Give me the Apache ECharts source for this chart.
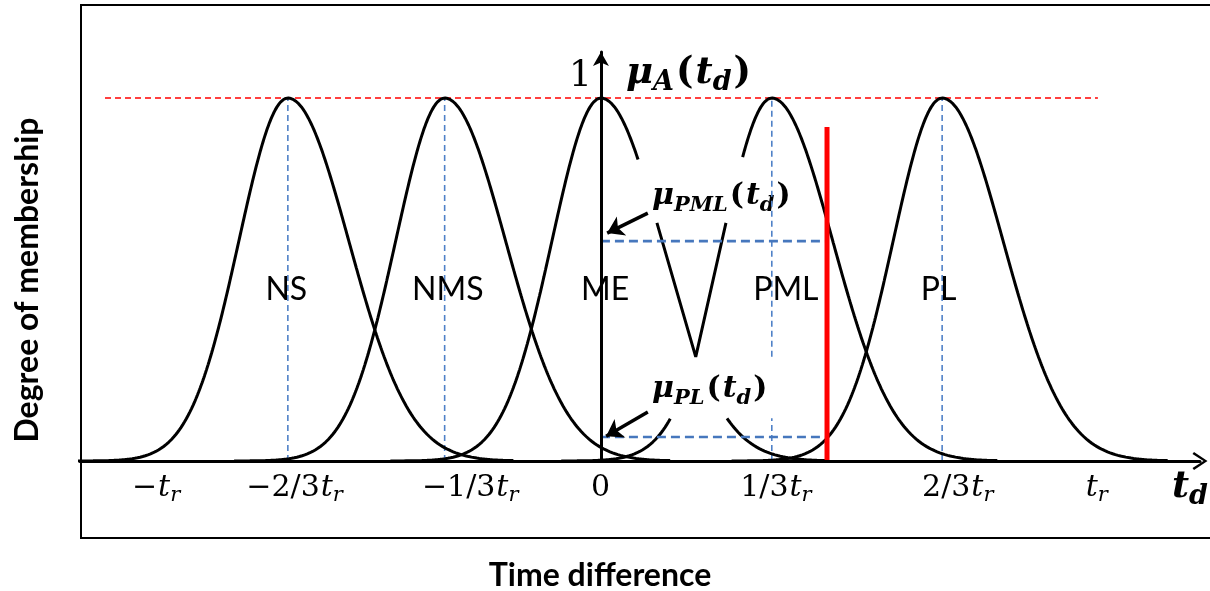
<!DOCTYPE html>
<html>
<head>
<meta charset="utf-8">
<script src="https://cdn.jsdelivr.net/npm/echarts@6/dist/echarts.min.js"></script>
<style>
  html, body { margin: 0; padding: 0; background: #ffffff; }
  #chart { width: 1210px; height: 591px; }
</style>
</head>
<body>
<div id="chart"></div>
<script>
// Fuzzy sets over the time difference t_d (x in axis units, 0 = no difference)
const setNames   = ['NS', 'NMS', 'ME', 'PML', 'PL'];
const centers    = [-0.601, -0.300, 0, 0.328, 0.655];
const sigmaLeft  = 0.094;   // width of the rising flank
const sigmaRight = 0.117;   // width of the falling flank
// flank of a set that is drawn with a break (membership band left open)
const flankBreak = [null, null, 'right', 'left', null];
const breakBand  = [0.12, 0.83];

// set name positions
const setLabelX = [-0.604, -0.294, 0.008, 0.355, 0.648];
const setLabelY = 0.471;

// x tick labels
const tickValues = [-0.854, -0.588, -0.251, 0, 0.336, 0.685, 0.952];
const tickLabels = [
  '{n|−}{t|t}{s|r}',
  '{n|−2/3}{t|t}{s|r}',
  '{n|−1/3}{t|t}{s|r}',
  '{n|0}',
  '{n|1/3}{t|t}{s|r}',
  '{n|2/3}{t|t}{s|r}',
  '{t|t}{s|r}'
];

// reference lines
const peakLineX   = [-0.952, 0.954];   // dashed line at membership 1
const cutX        = 0.434;             // current time difference
const cutTop      = 0.92;
const muPML       = 0.606;             // membership read in PML
const muPL        = 0.066;             // membership read in PL
const centerGap   = [null, null, null, [0.118, 0.287], null];

// break marker between ME and PML
const vShapeX = [0.1075, 0.182, 0.240];
const vShapeY = [0.656, 0.287, 0.656];

// pointers from the annotations to the membership axis
const arrowFrom = [[0.090, 0.683], [0.090, 0.135]];
const arrowTo   = [[0.012, 0.628], [0.010, 0.068]];

const MATH = 'DejaVu Serif';
const SANS = 'Lato';

function bell(c, x) {
  const s = x < c ? sigmaLeft : sigmaRight;
  return Math.exp(-0.5 * Math.pow((x - c) / s, 2));
}

function curveData(i) {
  const c = centers[i];
  const x0 = c - 4.3 * sigmaLeft, x1 = c + 3.7 * sigmaRight;
  const n = 500, pts = [];
  for (let k = 0; k <= n; k++) {
    const x = x0 + (x1 - x0) * k / n;
    const mu = bell(c, x);
    const side = x < c ? 'left' : 'right';
    const open = flankBreak[i] === side && mu > breakBand[0] && mu < breakBand[1];
    pts.push(open ? [x, '-'] : [x, mu]);
  }
  return pts;
}

const series = [];

function segment(points, style, z) {
  series.push({ type: 'line', data: points, symbol: 'none', z: z, lineStyle: style, silent: true });
}

// dashed line at full membership
segment([[peakLineX[0], 1], [peakLineX[1], 1]], { color: '#ff0000', width: 1.5, type: [6, 4] }, 1);

// dashed centre lines of the sets
const centreStyle = { color: '#4f81c7', width: 1.6, type: [6, 4] };
centers.forEach((c, i) => {
  if (c === 0) return; // lies on the membership axis
  if (centerGap[i]) {
    segment([[c, 0], [c, centerGap[i][0]]], centreStyle, 1);
    segment([[c, centerGap[i][1]], [c, 1]], centreStyle, 1);
  } else {
    segment([[c, 0], [c, 1]], centreStyle, 1);
  }
});

// membership functions
setNames.forEach((name, i) => {
  series.push({
    name: name, type: 'line', data: curveData(i), symbol: 'none', z: 3,
    connectNulls: false, silent: true,
    lineStyle: { color: '#000000', width: 3 }
  });
});

// memberships read at the current time difference
const readStyle = { color: '#4677bd', width: 2.6, type: [9, 5] };
segment([[0, muPML], [cutX, muPML]], readStyle, 4);
segment([[0, muPL], [cutX, muPL]], readStyle, 4);

// break marker
segment(vShapeX.map((x, i) => [x, vShapeY[i]]), { color: '#000000', width: 3 }, 3);

// current time difference
segment([[cutX, 0], [cutX, cutTop]], { color: '#ff0000', width: 5 }, 5);

// pointers
series.push({
  type: 'lines', coordinateSystem: 'cartesian2d', z: 5, silent: true,
  symbol: ['none', 'arrow'], symbolSize: 16,
  lineStyle: { color: '#000000', width: 3.5, opacity: 1, curveness: 0 },
  data: arrowFrom.map((f, i) => ({ coords: [f, arrowTo[i]] }))
});

// set names and the unit mark on the membership axis
series.push({
  type: 'scatter', symbolSize: 0, z: 6, silent: true,
  itemStyle: { opacity: 1 },
  data: setNames.map((n, i) => ({ name: n, value: [setLabelX[i], setLabelY] })),
  label: {
    show: true, position: 'inside', formatter: p => p.name,
    fontFamily: SANS, fontSize: 32, color: '#000000', opacity: 1
  }
});
series.push({
  type: 'scatter', symbolSize: 0, z: 6, silent: true,
  itemStyle: { opacity: 1 },
  data: [{ name: '1', value: [0, 1] }],
  label: {
    show: true, position: 'left', distance: 9, offset: [0, -21],
    formatter: p => p.name,
    fontFamily: MATH, fontSize: 36, color: '#000000', opacity: 1
  }
});

const mathRich = (size, sub) => ({
  m:  { fontFamily: MATH, fontSize: size, fontWeight: 'bold', fontStyle: 'italic', lineHeight: size + 10, verticalAlign: 'middle' },
  p:  { fontFamily: MATH, fontSize: size, fontWeight: 'bold', lineHeight: size + 10, verticalAlign: 'middle', padding: [0, 2, 0, 2] },
  s:  { fontFamily: MATH, fontSize: sub, fontWeight: 'bold', fontStyle: 'italic', lineHeight: sub, verticalAlign: 'bottom' }
});

const chart = echarts.init(document.getElementById('chart'), null, { renderer: 'canvas' });
chart.setOption({
  animation: false,
  backgroundColor: '#ffffff',
  grid: { left: 80, right: 10, top: 52, bottom: 130, containLabel: false, outerBoundsMode: 'none' },
  xAxis: {
    type: 'value', min: -1, max: 1.15, z: 10,
    axisLine: {
      show: true, onZero: true,
      symbol: ['none', 'path://M0,13.5 L9,0 L18,13.5 L16,15 L9,4 L2,15 Z'],
      symbolSize: [18, 15],
      lineStyle: { color: '#000000', width: 3 }
    },
    axisTick: { show: false },
    splitLine: { show: false },
    axisLabel: {
      customValues: tickValues, margin: 9, hideOverlap: false,
      formatter: v => tickLabels[tickValues.indexOf(v)] || '',
      rich: {
        n: { fontFamily: MATH, fontSize: 30, lineHeight: 36, color: '#000', verticalAlign: 'middle', padding: [0, 1, 0, 0] },
        t: { fontFamily: MATH, fontSize: 30, fontStyle: 'italic', lineHeight: 36, color: '#000', verticalAlign: 'middle' },
        s: { fontFamily: MATH, fontSize: 21, fontStyle: 'italic', lineHeight: 21, color: '#000', verticalAlign: 'bottom' }
      }
    }
  },
  yAxis: {
    type: 'value', min: 0, max: 1.127, z: 10,
    axisLine: {
      show: true, onZero: true,
      symbol: ['none', 'arrow'], symbolSize: [12, 14],
      lineStyle: { color: '#000000', width: 3 }
    },
    axisTick: { show: false },
    splitLine: { show: false },
    axisLabel: { show: false }
  },
  graphic: [
    { type: 'rect', silent: true, z: -10,
      shape: { x: 81, y: 5, width: 1200, height: 533 },
      style: { fill: 'none', stroke: '#000000', lineWidth: 2 } },
    { type: 'text', x: 28, y: 280, rotation: Math.PI / 2, silent: true,
      style: { text: 'Degree of membership', fontFamily: SANS, fontWeight: 'bold', fontSize: 32,
               fill: '#000', textAlign: 'center', textVerticalAlign: 'middle' } },
    { type: 'text', x: 600, y: 576, silent: true,
      style: { text: 'Time difference', fontFamily: SANS, fontWeight: 'bold', fontSize: 32,
               fill: '#000', textAlign: 'center', textVerticalAlign: 'middle' } },
    { type: 'text', x: 626, y: 73, silent: true,
      style: { text: '{m|μ}{s|A}{p|(}{m|t}{s|d}{p|)}', rich: mathRich(37, 27),
               fill: '#000', textAlign: 'left', textVerticalAlign: 'middle' } },
    { type: 'text', x: 652, y: 196, silent: true,
      style: { text: '{m|μ}{s|PML}{p|(}{m|t}{s|d}{p|)}', rich: mathRich(30, 21),
               fill: '#000', textAlign: 'left', textVerticalAlign: 'middle' } },
    { type: 'text', x: 652, y: 389, silent: true,
      style: { text: '{m|μ}{s|PL}{p|(}{m|t}{s|d}{p|)}', rich: mathRich(30, 21),
               fill: '#000', textAlign: 'left', textVerticalAlign: 'middle' } },
    { type: 'text', x: 1172, y: 487, silent: true,
      style: { text: '{m|t}{s|d}', rich: mathRich(37, 27),
               fill: '#000', textAlign: 'left', textVerticalAlign: 'middle' } }
  ],
  series: series
});
</script>
</body>
</html>
